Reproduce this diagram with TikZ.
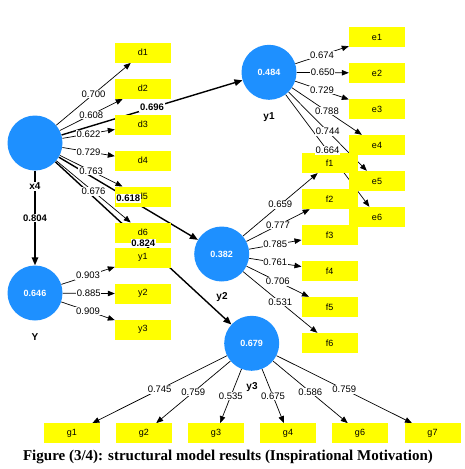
\documentclass[tikz,border=0pt]{standalone}
\usepackage{fontspec}
\setmainfont{Liberation Serif}
\newfontfamily\arialf{Liberation Sans}
\usetikzlibrary{arrows.meta}
\pgfdeclarelayer{bg}
\pgfsetlayers{bg,main}
\definecolor{plsblue}{HTML}{1E90FF}
\definecolor{plsyellow}{HTML}{FFFF00}
\tikzset{
 lat/.style={circle,fill=plsblue,minimum size=55pt,inner sep=0pt,text=white,font=\arialf\fontsize{9}{10}\selectfont\bfseries},
 latname/.style={fill=white,inner sep=1pt,font=\arialf\fontsize{10}{11}\selectfont\bfseries},
 mv/.style={rectangle,fill=plsyellow,minimum width=56pt,minimum height=20pt,inner sep=0pt,font=\arialf\fontsize{9}{10}\selectfont},
 ind/.style={line width=0.7pt,-{Triangle[length=7pt,width=5.5pt]}},
 str/.style={line width=1.4pt,-{Triangle[length=8pt,width=6.5pt]}},
 lbl/.style={fill=white,inner sep=0.8pt,font=\arialf\fontsize{9.5}{10}\selectfont},
 slbl/.style={fill=white,inner sep=0.8pt,font=\arialf\fontsize{9.5}{10}\selectfont\bfseries},
 captext/.style={font=\fontsize{15}{17}\selectfont\bfseries,inner sep=0pt},
}
\newcommand\pedge[5]{%
 \begin{pgfonlayer}{bg}\draw[#1] (#3) -- (#4);\end{pgfonlayer}%
 \path (#3) -- node[#2]{#5} (#4);}
\begin{document}
\begin{tikzpicture}[x=1pt,y=-1pt]
\useasboundingbox (0,0) rectangle (465,469);
% latent variables
\node[lat] (x4) at (35,143) {};
\node[lat] (Y) at (35,293) {0.646};
\node[lat] (y1) at (269,72.3) {0.484};
\node[lat] (y2) at (221.7,254) {0.382};
\node[lat] (y3) at (251.7,343.3) {0.679};
% indicators
\foreach \i [count=\k from 0] in {1,...,6}{
 \node[mv] (d\i) at (143,52.7+36*\k) {d\i};
 \node[mv] (e\i) at (377,37+36*\k) {e\i};
}
\foreach \i [count=\k from 0] in {1,...,6}{
 \node[mv] (f\i) at (329.7,163+36*\k) {f\i};
}
\foreach \i [count=\k from 0] in {1,2,3}{
 \node[mv] (by\i) at (143,257.7+36*\k) {y\i};
}
\node[mv] (g1) at (72,433.3) {g1};
\node[mv] (g2) at (144,433.3) {g2};
\node[mv] (g3) at (216,433.3) {g3};
\node[mv] (g4) at (288,433.3) {g4};
\node[mv] (g6) at (360,433.3) {g6};
\node[mv] (g7) at (432.5,433.3) {g7};
% structural paths
\pedge{str}{slbl}{x4}{Y}{0.804}
\pedge{str}{slbl}{x4}{y1}{0.696}
\pedge{str}{slbl}{x4}{y2}{0.618}
\pedge{str}{slbl}{x4}{y3}{0.824}
% loadings
\pedge{ind}{lbl}{x4}{d1}{0.700}
\pedge{ind}{lbl}{x4}{d2}{0.608}
\pedge{ind}{lbl}{x4}{d3}{0.622}
\pedge{ind}{lbl}{x4}{d4}{0.729}
\pedge{ind}{lbl}{x4}{d5}{0.763}
\pedge{ind}{lbl}{x4}{d6}{0.676}
\pedge{ind}{lbl}{Y}{by1}{0.903}
\pedge{ind}{lbl}{Y}{by2}{0.885}
\pedge{ind}{lbl}{Y}{by3}{0.909}
\pedge{ind}{lbl}{y1}{e1}{0.674}
\pedge{ind}{lbl}{y1}{e2}{0.650}
\pedge{ind}{lbl}{y1}{e3}{0.729}
\pedge{ind}{lbl}{y1}{e4}{0.788}
\pedge{ind}{lbl}{y1}{e5}{0.744}
\pedge{ind}{lbl}{y1}{e6}{0.664}
\pedge{ind}{lbl}{y2}{f1}{0.659}
\pedge{ind}{lbl}{y2}{f2}{0.777}
\pedge{ind}{lbl}{y2}{f3}{0.785}
\pedge{ind}{lbl}{y2}{f4}{0.761}
\pedge{ind}{lbl}{y2}{f5}{0.706}
\pedge{ind}{lbl}{y2}{f6}{0.531}
\pedge{ind}{lbl}{y3}{g1}{0.745}
\pedge{ind}{lbl}{y3}{g2}{0.759}
\pedge{ind}{lbl}{y3}{g3}{0.535}
\pedge{ind}{lbl}{y3}{g4}{0.675}
\pedge{ind}{lbl}{y3}{g6}{0.586}
\pedge{ind}{lbl}{y3}{g7}{0.759}
% latent names
\node[latname] (nx4) at (35,186.5) {x4};
\node[latname] (nY) at (35,337) {Y};
\node[latname] (ny1) at (269,117) {y1};
\node[latname] (ny2) at (222,297) {y2};
\node[latname] (ny3) at (252,387) {y3};
% caption
\node[captext] (caption) at (228,457) {Figure (3/4): structural model results (Inspirational Motivation)};
\end{tikzpicture}
\end{document}
